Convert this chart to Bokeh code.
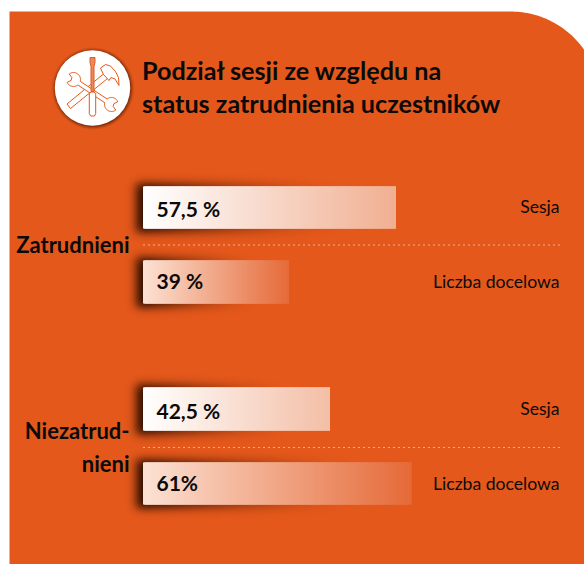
from bokeh.plotting import figure
from bokeh.embed import file_html
from bokeh.resources import INLINE
from bokeh.models import Range1d, ColumnDataSource
from bokeh.core.properties import value
import numpy as np
import math

ORANGE = "#E5581B"
FONT = "Lato"
INK = "#0a0a0a"

title_lines = ["Podział sesji ze względu na", "status zatrudnienia uczestników"]
group_lines = ["Zatrudnieni", "Niezatrud-", "nieni"]
bar_lengths = [57.5, 33.2, 42.5, 61.0]
bar_labels = ["57,5 %", "39 %", "42,5 %", "61%"]
bar_names = ["Sesja", "Liczba docelowa", "Sesja", "Liczba docelowa"]

W, H = 584, 564
PX_PER_PCT = 4.4
X0 = 143


def Y(v):
    return H - np.asarray(v, dtype=float)


p = figure(width=W, height=H, output_backend="svg", toolbar_location=None,
           x_range=Range1d(0, W), y_range=Range1d(0, H), min_border=0)
p.axis.visible = False
p.grid.visible = False
p.outline_line_color = None
p.background_fill_color = "white"
p.border_fill_color = "white"
p.extra_x_ranges["pct"] = Range1d(-(X0 - 0.5) / PX_PER_PCT, (W - X0 + 0.5) / PX_PER_PCT)

# panel with rounded corner
th = np.linspace(-np.pi / 2, 0, 60)
px = [9] + list(510 + 90 * np.cos(th)) + [W + 20, 9]
py = [11] + list(101 + 90 * np.sin(th)) + [H + 20, H + 20]
p.patch(px, Y(py), fill_color=ORANGE, line_color=None)

erf = np.vectorize(math.erf)


def box(x, a, b, s):
    return 0.5 * (erf((x - a) / s) - erf((x - b) / s))


def rgba(r, g, b, a):
    out = np.zeros(a.shape + (4,), dtype=np.uint8)
    out[..., 0] = r
    out[..., 1] = g
    out[..., 2] = b
    out[..., 3] = np.clip(a * 255, 0, 255).astype(np.uint8)
    return out.view(np.uint32).reshape(a.shape)


# badge shadow + badge
CX, CY, R = 92, 87.5, 37.7
xs = np.arange(CX - 50, CX + 50) + 0.5
ys = np.arange(CY + 50, CY - 50, -1) - 0.5
gx, gy = np.meshgrid(xs, ys)
d = np.hypot(gx - CX - 0.5, gy - CY - 0.5)
p.image_rgba(image=[rgba(60, 18, 0, 0.55 * np.clip((R + 4 - d) / 4, 0, 1) ** 1.5)],
             x=CX - 50, y=float(Y(CY + 50)), dw=100, dh=100)
p.circle([CX], [float(Y(CY))], radius=R, fill_color="white", line_color=None)

# icon
ICON = dict(line_color=ORANGE, line_width=1.0, line_join="round")


def wrench(c1, c2, n1, n2, r=7.0, hw=2.2):
    """Outline of a double open-ended wrench between head centres c1, c2."""
    c1, c2 = np.array(c1, float), np.array(c2, float)
    ax = (c2 - c1) / np.linalg.norm(c2 - c1)

    def head(c, axis, notch):
        base = math.atan2(axis[1], axis[0])
        gap = math.asin(hw / r)
        res = []
        notch_done = False
        for s in np.linspace(0, 2 * np.pi - 2 * gap, 60):
            ang = base + gap + s
            delta = (ang - notch + np.pi) % (2 * np.pi) - np.pi
            if abs(delta) < 0.6:
                if not notch_done:
                    res.append((c[0] + 2.5 * math.cos(notch - 0.6), c[1] + 2.5 * math.sin(notch - 0.6)))
                    res.append((c[0] + 2.5 * math.cos(notch + 0.6), c[1] + 2.5 * math.sin(notch + 0.6)))
                    notch_done = True
                continue
            res.append((c[0] + r * math.cos(ang), c[1] + r * math.sin(ang)))
        return res

    pts = head(c1, ax, n1) + head(c2, -ax, n2)
    return [q[0] for q in pts], [q[1] for q in pts]


# hammer handle and head
hx = [66.5, 70, 107, 103.5]
hy = [103.5, 108, 78, 73]
p.patch(hx, Y(hy), fill_color="white", **ICON)
hhx = [100, 105, 110, 115, 118, 118.5, 114.5, 110.5, 108.5, 103]
hhy = [67.5, 64, 65.5, 71, 77, 85, 78.5, 77, 80, 74]
p.patch(hhx, Y(hhy), fill_color="white", **ICON)

wx, wy = wrench((73, 79), (111, 104), math.radians(195), math.radians(15))
p.patch(wx, Y(wy), fill_color="white", **ICON)

# screwdriver
p.patch([89.5, 94.5, 94.5, 93.5, 93.5, 90.5, 90.5, 89.5], Y([57, 57, 62, 66, 91, 91, 66, 62]),
        fill_color="#E98A5E", **ICON)
p.patch([88.8, 90.5, 93.5, 95.2, 95.2, 94, 90, 88.8], Y([93, 91.5, 91.5, 93, 113, 115.5, 115.5, 113]),
        fill_color="white", **ICON)

# title
p.text([X0 - 1.5, X0 - 1.5], Y([69.5, 102]), text=title_lines, text_font=value(FONT), text_font_style="bold",
       text_font_size="25.2px", text_color=INK, text_baseline="middle")

tops = [186, 260, 387, 462]
hs = [42, 43, 43, 42]
value_mid = [207.5, 280, 409.5, 482]
name_mid = [205.5, 280.5, 407.5, 482.5]
starts = [(255, 255, 255), (252, 226, 212), (255, 255, 255), (252, 226, 212)]
ends = [(240, 175, 145), (229, 105, 55), (243, 190, 165), (229, 105, 55)]

for v, t, h, s, e, lab, name, vm, nm in zip(bar_lengths, tops, hs, starts, ends, bar_labels, bar_names,
                                            value_mid, name_mid):
    L = v * PX_PER_PCT
    # soft shadow, fading along the bar
    x1 = X0 - 30
    x2 = int(X0 + L)
    y1, y2 = t - 24, t + h + 26
    sx = np.arange(x1, x2) + 0.5
    sy = np.arange(y2, y1, -1) - 0.5
    gx, gy = np.meshgrid(sx, sy)
    fade = np.clip(1 - (gx - X0) / (L * 0.8), 0, 1) ** 1.6
    a = 1.0 * box(gx, X0 - 7, X0 + L, 7.0) * box(gy, t - 3, t + h + 4, 6.5) * fade
    p.image_rgba(image=[rgba(40, 12, 0, a)], x=x1, y=float(Y(y2)), dw=x2 - x1, dh=y2 - y1)
    # bar: overlapping quads running from 0 to the value, painted left to right
    n = int(math.ceil(L))
    lefts = np.arange(n) / PX_PER_PCT
    rights = np.minimum(lefts + 3 / PX_PER_PCT, v)
    f = (np.arange(n) + 0.5) / n
    cols = ["#%02x%02x%02x" % tuple(int(round(a_ + (b_ - a_) * q)) for a_, b_ in zip(s, e)) for q in f]
    src = ColumnDataSource(dict(l=lefts, r=rights, c=cols))
    p.quad(left="l", right="r", top=float(Y(t)), bottom=float(Y(t + h)), fill_color="c", line_color=None,
           source=src, x_range_name="pct")
    p.text([156], Y([vm]), text=[lab], text_font=value(FONT), text_font_style="bold",
           text_font_size="21px", text_color=INK, text_baseline="middle")
    p.text([559], Y([nm]), text=[name], text_font=value(FONT),
           text_font_size="17.6px", text_color=INK, text_baseline="middle", text_align="right")

for y in [244.5, 447]:
    p.segment([X0], Y([y]), [559], Y([y]), line_color="white", line_width=1, line_dash="1 4")

p.text([129, 129, 129], Y([243.5, 429.5, 463]), text=group_lines, text_font=value(FONT), text_font_style="bold",
       text_font_size="22px", text_color=INK, text_align="right", text_baseline="middle")

open("out.html", "w").write(file_html(p, INLINE))
